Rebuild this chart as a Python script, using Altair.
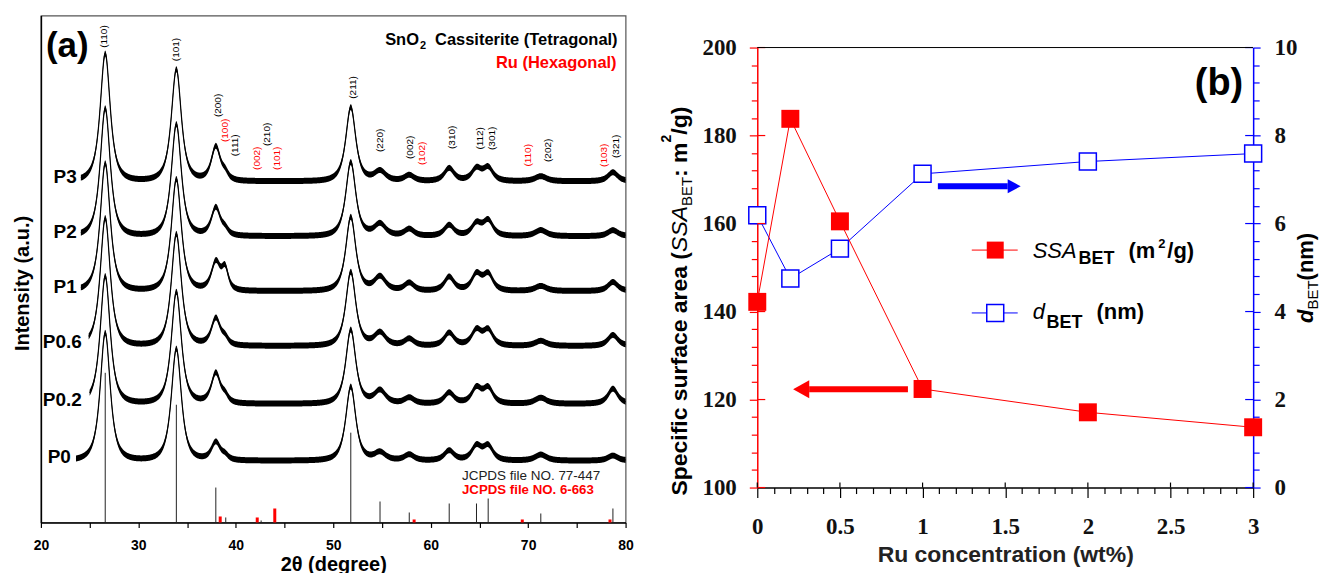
import altair as alt
import numpy as np
import pandas as pd

SANS = "Liberation Sans"
SERIF = "Liberation Serif"

# ===================== (a) XRD patterns =====================
samples = ["P0", "P0.2", "P0.6", "P1", "P2", "P3"]
sample_offset = [62, 119, 177, 232, 287, 342]          # stacking offset (a.u.)
scan_start = [23.6, 25.0, 24.9, 24.1, 24.1, 24.1]      # first visible 2theta
label_2theta = [20.7, 20.2, 20.2, 21.3, 21.3, 21.3]

peak_2theta = [26.6, 33.9, 37.95, 38.9, 51.8, 54.8, 57.8, 61.9, 64.7, 65.9, 71.3, 78.7]
peak_hwhm = [0.6, 0.6, 0.55, 0.4, 0.6, 0.7, 0.6, 0.6, 0.6, 0.6, 0.7, 0.6]
h_P0 = [128, 112, 18, 4, 74, 8, 6, 10, 14, 14, 6, 5]
h_P02 = [128, 112, 30, 6, 74, 13, 6, 11, 15, 15, 6, 15]
h_P06 = [128, 112, 27, 6, 74, 13, 7, 13, 15, 15, 5, 11]
h_P1 = [128, 112, 28, 20, 74, 14, 8, 14, 16, 16, 5, 9]
h_P2 = [128, 112, 28, 5, 74, 12, 7, 11, 12, 15, 6, 6]
h_P3 = [128, 112, 34, 6, 74, 10, 6, 13, 12, 13, 5, 9]
peak_heights = [h_P0, h_P02, h_P06, h_P1, h_P2, h_P3]

# reference stick patterns
sno2_2theta = [26.6, 33.9, 37.95, 38.97, 42.6, 51.8, 54.8, 57.8, 61.9, 64.7, 65.9, 71.3, 78.7]
sno2_int = [150, 118, 35, 5, 2, 90, 21, 10, 19, 19, 24, 9, 14]
ru_2theta = [38.4, 42.2, 44.0, 58.3, 69.4, 78.4]
ru_int = [6, 5, 14, 3, 3, 3]

# reflection labels
hkl_text = ["(110)", "(101)", "(200)", "(100)", "(111)", "(002)", "(210)", "(101)", "(211)",
            "(220)", "(002)", "(102)", "(310)", "(112)", "(301)", "(110)", "(202)", "(103)", "(321)"]
hkl_2theta = [26.5, 33.9, 38.2, 38.9, 39.9, 42.2, 43.2, 44.2, 52.0,
              54.8, 57.9, 59.1, 62.2, 65.1, 66.3, 70.0, 72.0, 77.8, 79.0]
hkl_level = [487, 474, 418, 393, 378, 365, 389, 365, 436,
             383, 376, 370, 386, 385, 385, 368, 373, 368, 377]
hkl_phase = ["SnO2", "SnO2", "SnO2", "Ru", "SnO2", "Ru", "SnO2", "Ru", "SnO2",
             "SnO2", "SnO2", "Ru", "SnO2", "SnO2", "SnO2", "Ru", "SnO2", "Ru", "SnO2"]

# ===================== (b) BET =====================
ru_conc = [0, 0.2, 0.5, 1, 2, 3]
ssa_bet = [142.2, 183.8, 160.5, 122.4, 117.1, 113.7]
d_bet = [6.19, 4.75, 5.43, 7.13, 7.41, 7.59]
x_major = [0, 0.5, 1, 1.5, 2, 2.5, 3]
ssa_major = [100, 120, 140, 160, 180, 200]
d_major = [0, 2, 4, 6, 8, 10]

# ---------------- build XRD table ----------------
grid = np.round(np.arange(20, 80.0001, 0.05), 2)
rows = []
m = 1.5
for s, off, st, hs in zip(samples, sample_offset, scan_start, peak_heights):
    xs = grid[grid >= st]
    prof = np.zeros_like(xs)
    for p, w, h in zip(peak_2theta, peak_hwhm, hs):
        prof += h * (1 + ((xs - p) / w) ** 2 * (2 ** (1 / m) - 1)) ** (-m)
    for x, v in zip(xs, prof):
        rows.append({"tt": float(x), "sample": s, "mid": round(off + v, 2),
                     "lo": round(off + v - 3, 2), "hi": round(off + v + 3, 2)})
xrd = pd.DataFrame(rows)
sticks_sno2 = pd.DataFrame({"tt": sno2_2theta, "h": sno2_int})
sticks_ru = pd.DataFrame({"tt": ru_2theta, "h": ru_int})
lab_df = pd.DataFrame({"tt": label_2theta, "off": sample_offset, "name": samples})
hkl_df = pd.DataFrame({"tt": hkl_2theta, "lvl": hkl_level, "txt": hkl_text, "phase": hkl_phase})
one = pd.DataFrame({"k": [0]})

xa_axis = alt.Axis(values=list(range(20, 81, 5)),
                   labelExpr="datum.value % 10 === 0 ? datum.label : ''",
                   tickSize=5, tickColor="black", tickWidth=1.2,
                   domainColor="black", domainWidth=1.5,
                   labelFont=SANS, labelFontSize=14, labelFontWeight="bold", labelColor="black",
                   labelPadding=11, labelFlush=False, labelOverlap=False,
                   title="2θ (degree)", titleFont=SANS, titleFontSize=20,
                   titleFontWeight="bold", titleColor="black", titlePadding=2)
xa_scale = alt.Scale(domain=[20, 80], nice=False, zero=False)
ya_axis = alt.Axis(labels=False, ticks=False, domainColor="black", domainWidth=1.5,
                   title="Intensity (a.u.)", titleFont=SANS, titleFontSize=20,
                   titleFontWeight="bold", titleColor="black", titlePadding=8, titleY=268)
ya_scale = alt.Scale(domain=[0, 508], nice=False, zero=False)


def XA():
    return alt.X("tt:Q", scale=xa_scale, axis=xa_axis, title="2θ (degree)")


def YA(f):
    return alt.Y(f, scale=ya_scale, axis=ya_axis, title="Intensity (a.u.)")


def txt(s, x, y, size, weight="bold", style="normal", color="black", angle=0,
        align="left", baseline="alphabetic", font=SANS):
    return alt.Chart(one).mark_text(text=s, fontSize=size, fontWeight=weight, fontStyle=style,
                                    color=color, angle=angle, align=align, baseline=baseline,
                                    font=font).encode(x=alt.value(x), y=alt.value(y))


band = alt.Chart(xrd).mark_area(color="black", opacity=1).encode(
    x=XA(), y=YA("lo:Q"), y2="hi:Q", detail="sample:N")
line = alt.Chart(xrd).mark_line(color="black", strokeWidth=1.2).encode(
    x=XA(), y=YA("mid:Q"), detail="sample:N")
st1 = alt.Chart(sticks_sno2).mark_rule(color="#222", strokeWidth=1).encode(
    x=XA(), y=YA("h:Q"), y2=alt.datum(0))
st2 = alt.Chart(sticks_ru).mark_rule(color="red", strokeWidth=3).encode(
    x=XA(), y=YA("h:Q"), y2=alt.datum(0))
labs = alt.Chart(lab_df).mark_text(align="left", baseline="middle", dy=-4, fontSize=19,
                                   fontWeight="bold", font=SANS, color="black").encode(
    x=XA(), y=YA("off:Q"), text="name:N")
hkl = alt.Chart(hkl_df).mark_text(angle=270, align="center", baseline="middle", fontSize=10,
                                  font=SANS).encode(
    x=XA(), y=YA("lvl:Q"), text="txt:N",
    color=alt.Color("phase:N", scale=alt.Scale(domain=["SnO2", "Ru"], range=["black", "red"]),
                    legend=None))

panel_a = alt.layer(
    st1, st2, band, line, labs, hkl,
    txt("(a)", 5, 41, 35),
    txt("SnO", 345, 29, 16.5),
    txt("2", 380, 33, 11),
    txt(" Cassiterite (Tetragonal)", 578, 29, 16.5, align="right"),
    txt("Ru (Hexagonal)", 577, 53, 16.5, color="red", align="right"),
    txt("JCPDS file NO. 77-447", 422, 465, 13.5, weight="normal", color="#222"),
    txt("JCPDS file NO. 6-663", 422, 479, 13.3, color="red"),
).properties(width=586, height=508,
             view=alt.ViewBackground(stroke="#555", strokeWidth=1.2))

# ---------------- panel b ----------------
B0 = 32          # panel (b) plot area starts this far below panel (a)'s top
BH = 441         # panel (b) plot height
BW = 497
dfb = pd.DataFrame({"c": ru_conc, "ssa": ssa_bet, "d": d_bet})
xb_vals = [round(i * 0.1, 1) for i in range(31)]
major_x = "abs(datum.value*2 - round(datum.value*2)) < 0.001"
xb_axis = alt.Axis(values=xb_vals,
                   labelExpr=f"{major_x} ? format(datum.value, '~g') : ''",
                   tickSize={"condition": {"test": major_x, "value": 10}, "value": 6},
                   tickColor="black", tickWidth=1.2, domainColor="black", domainWidth=1.5,
                   labelFont=SERIF, labelFontSize=23, labelFontWeight="bold", labelColor="#111",
                   labelPadding=18, labelFlush=False, labelOverlap=False,
                   title="Ru concentration (wt%)", titleFont=SANS, titleFontSize=23,
                   titleFontWeight="bold", titleColor="#222", titlePadding=5)
xb_scale = alt.Scale(domain=[0, 3], nice=False, zero=False)


def XB(f="c:Q"):
    return alt.X(f, scale=xb_scale, axis=xb_axis, title="Ru concentration (wt%)")


ssa_vals = list(range(100, 201, 4))
ssa_axis = alt.Axis(values=ssa_vals, orient="left",
                    labelExpr="datum.value % 20 === 0 ? datum.label : ''",
                    tickSize={"condition": {"test": "datum.value % 20 === 0", "value": 8}, "value": 6},
                    tickColor="red", tickWidth=1.2, domainColor="red", domainWidth=1.5,
                    labelFont=SERIF, labelFontSize=23, labelFontWeight="bold", labelColor="#111",
                    labelPadding=13, labelOverlap=False, labelFlush=False, title=None)
ssa_scale = alt.Scale(domain=[100, 200], nice=False, zero=False, range=[B0 + BH, B0])

d_vals = [round(i * 0.4, 1) for i in range(26)]
major_d = "abs(datum.value/2 - round(datum.value/2)) < 0.001"
d_axis = alt.Axis(values=d_vals, orient="right",
                  labelExpr=f"{major_d} ? format(datum.value, '~g') : ''",
                  tickSize={"condition": {"test": major_d, "value": 7}, "value": 6},
                  tickColor="blue", tickWidth=1.2, domainColor="blue", domainWidth=1.5,
                  labelFont=SERIF, labelFontSize=23, labelFontWeight="bold", labelColor="#111",
                  labelPadding=14, labelOverlap=False, labelFlush=False, title=None)
d_scale = alt.Scale(domain=[0, 10], nice=False, zero=False, range=[B0 + BH, B0])


def YS(f="ssa:Q"):
    return alt.Y(f, scale=ssa_scale, axis=ssa_axis)


def YD(f="d:Q"):
    return alt.Y(f, scale=d_scale, axis=d_axis)


blue = alt.layer(
    alt.Chart(dfb).mark_line(color="blue", strokeWidth=1).encode(x=XB(), y=YD()),
    alt.Chart(dfb).mark_point(shape="square", size=289, filled=True, fill="white", stroke="blue",
                              strokeWidth=1.5, opacity=1).encode(x=XB(), y=YD()),
    # inner halves of the major ticks on the right axis
    alt.Chart(pd.DataFrame({"v": d_major})).mark_rule(color="blue", strokeWidth=1.2).encode(
        x=alt.value(BW - 8), x2=alt.value(BW), y=YD("v:Q")),
)
red = alt.layer(
    alt.Chart(dfb).mark_line(color="red", strokeWidth=1).encode(x=XB(), y=YS()),
    alt.Chart(dfb).mark_point(shape="square", size=324, filled=True, color="red",
                              opacity=1).encode(x=XB(), y=YS()),
    alt.Chart(pd.DataFrame({"v": ssa_major})).mark_rule(color="red", strokeWidth=1.2).encode(
        x=alt.value(0), x2=alt.value(8), y=YS("v:Q")),
)
x_inner = alt.Chart(pd.DataFrame({"v": x_major})).mark_rule(color="black", strokeWidth=1.2).encode(
    x=XB("v:Q"), y=alt.value(B0 + BH - 5), y2=alt.value(B0 + BH))


def rule(x1, x2, y, color, w):
    return alt.Chart(one).mark_rule(color=color, strokeWidth=w, strokeCap="butt").encode(
        x=alt.value(x1), x2=alt.value(x2), y=alt.value(y))


def sym(x, y, shape, size, **kw):
    return alt.Chart(one).mark_point(shape=shape, size=size, opacity=1, **kw).encode(
        x=alt.value(x), y=alt.value(y))


def tb(s, x, y, size, **kw):
    return txt(s, x, y + B0, size, **kw)


# chained pieces of the rotated axis titles (start positions from text widths)
L0 = 449
l_ssa = L0 - 10.616 * 23
l_bet = l_ssa - 2.0 * 23
l_m = l_bet - 1.945 * 15
l_2 = l_m - 1.5 * 23
l_g = l_2 - 0.556 * 14
R0 = 276
r_bet = R0 - 0.611 * 22
r_nm = r_bet - 1.945 * 15

ann_b = [
    rule(0, BW, B0, "black", 1),
    x_inner,
    tb("(b)", 487, 48, 38, align="right"),
    # legend
    rule(215, 261, 203 + B0, "red", 1),
    sym(238.5, 203 + B0, "square", 289, filled=True, color="red"),
    rule(215, 261, 266 + B0, "blue", 1),
    sym(238.5, 266 + B0, "square", 289, filled=True, fill="white", stroke="blue", strokeWidth=1.5),
    tb("SSA", 276, 211, 22, weight="normal", style="italic"),
    tb("BET", 322, 217, 18),
    tb("(m", 372, 211, 22),
    tb("2", 402, 201, 13),
    tb("/g)", 411, 211, 22),
    tb("d", 276, 272, 22, weight="normal", style="italic"),
    tb("BET", 290, 281, 18),
    tb("(nm)", 340, 272, 22),
    # arrows
    rule(181, 251, 139 + B0, "blue", 6),
    sym(257.5, 139 + B0, "M-0.93,-1L0.93,0L-0.93,1Z", 196, filled=True, color="blue"),
    rule(151, 52, 342.5 + B0, "red", 6),
    sym(44, 342.5 + B0, "M0.9,-1L-0.9,0L0.9,1Z", 324, filled=True, color="red"),
    # left axis title
    tb("Specific surface area (", -70, L0, 23, angle=270),
    tb("SSA", -70, l_ssa, 23, weight="normal", style="italic", angle=270),
    tb("BET", -65, l_bet, 15, weight="normal", angle=270),
    tb(": m", -70, l_m, 23, angle=270),
    tb("2", -86, l_2, 14, angle=270),
    tb("/g)", -70, l_g, 23, angle=270),
    # right axis title
    tb("d", 557, R0, 22, style="italic", angle=270),
    tb("BET", 562, r_bet, 15, weight="normal", angle=270),
    tb(" (nm)", 557, r_nm, 22, angle=270),
]

panel_b = alt.layer(blue, red, *ann_b).resolve_scale(y="independent").properties(
    width=BW, height=B0 + BH, view=alt.ViewBackground(stroke="transparent", strokeWidth=0))

chart = alt.hconcat(panel_a, panel_b, spacing=26).properties(
    padding={"left": 12, "top": 14, "right": 0, "bottom": 0}
).configure(font=SANS).configure_axis(grid=False)

chart.save("out.html", embed_options={"renderer": "svg", "actions": False})
